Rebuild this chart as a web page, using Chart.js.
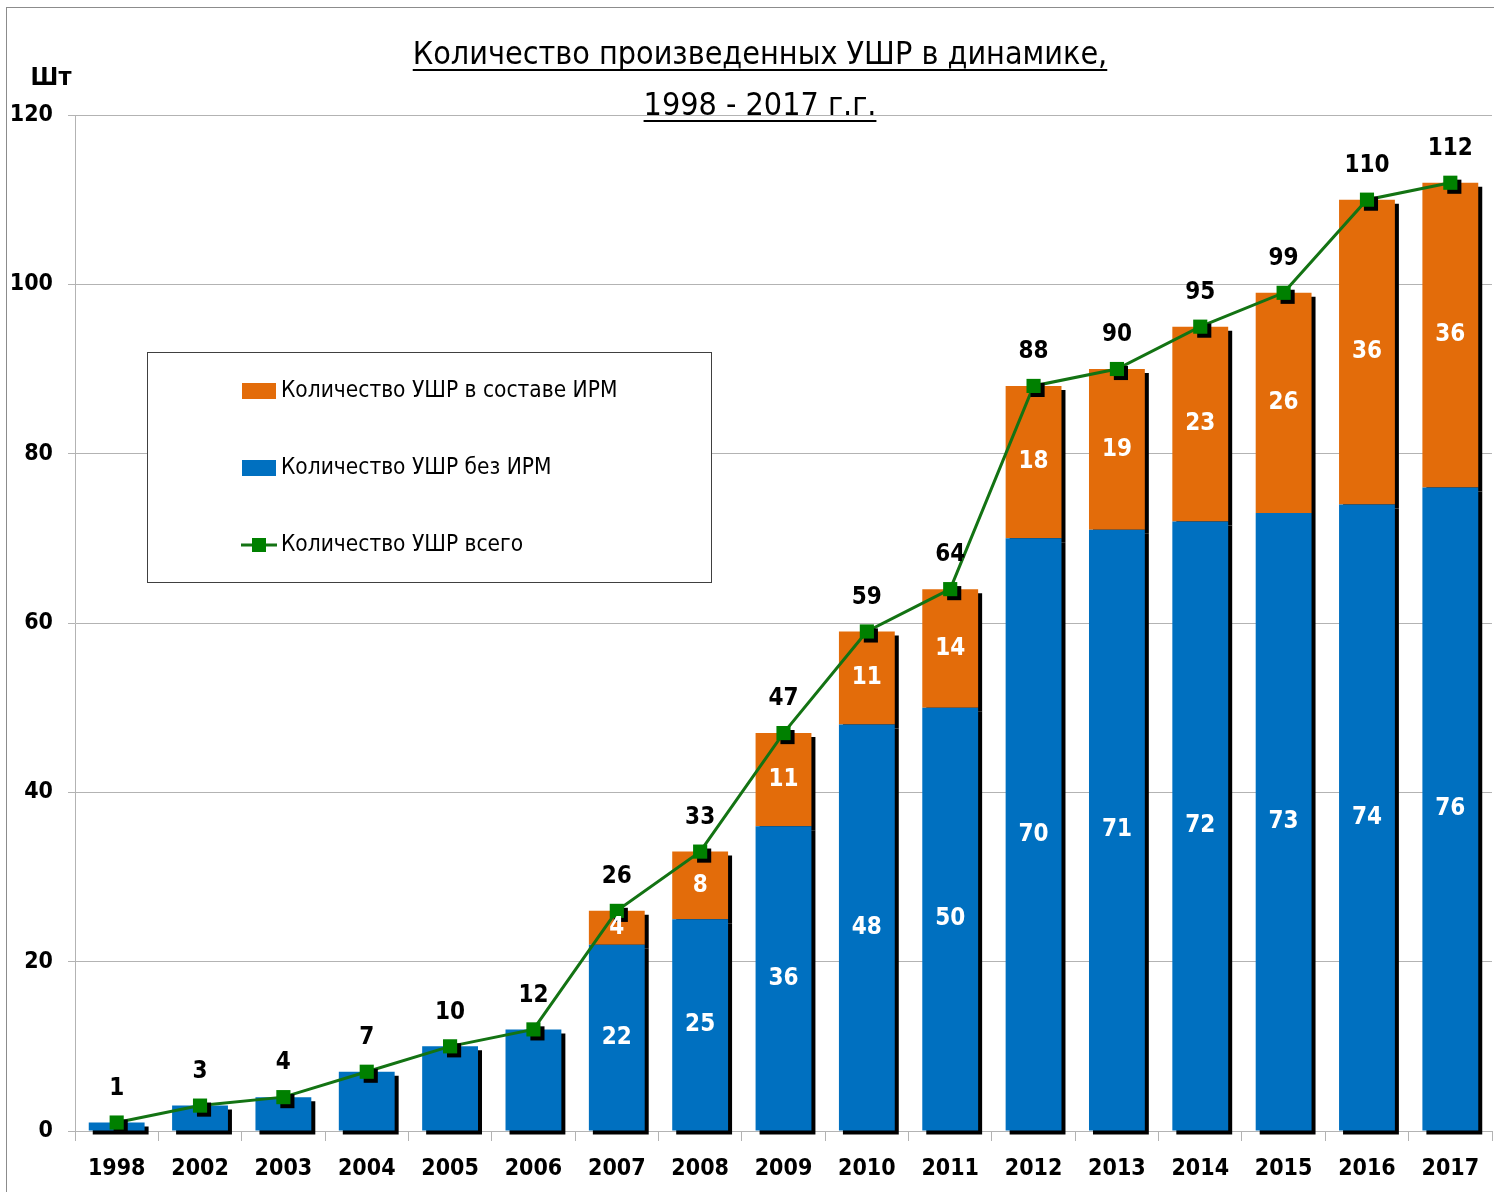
<!DOCTYPE html>
<html>
<head>
<meta charset="utf-8">
<script src="https://cdn.jsdelivr.net/npm/chart.js@4"></script>
<style>
  html, body { margin: 0; padding: 0; background: #fff; }
  #wrap { width: 1494px; height: 1192px; }
</style>
</head>
<body>
<div id="wrap"><canvas id="chart" width="1494" height="1192"></canvas></div>
<script>
const years = ['1998', '2002', '2003', '2004', '2005', '2006', '2007', '2008', '2009',
    '2010', '2011', '2012', '2013', '2014', '2015', '2016', '2017'];
const withoutIrm = [1, 3, 4, 7, 10, 12, 22, 25, 36, 48, 50, 70, 71, 72, 73, 74, 76];
const withIrm = [0, 0, 0, 0, 0, 0, 4, 8, 11, 11, 14, 18, 19, 23, 26, 36, 36];
const totals = [1, 3, 4, 7, 10, 12, 26, 33, 47, 59, 64, 88, 90, 95, 99, 110, 112];
const yTicks = [0, 20, 40, 60, 80, 100, 120];

const titleLines = ['Количество произведенных УШР в динамике,', '1998 - 2017 г.г.'];
const labelIrm = 'Количество УШР в составе ИРМ';
const labelNoIrm = 'Количество УШР без ИРМ';
const labelTotal = 'Количество УШР всего';

const FONT = "'Liberation Sans Narrow', 'DejaVu Sans Condensed', 'Open Sans', sans-serif";
const BLUE = '#0070C0';
const ORANGE = '#E36C0A';
const GREEN_LINE = '#137313';
const GREEN_MARK = '#008000';
const GRID = '#b3b3b3';

const shadowPlugin = {
    id: 'shadow',
    beforeDatasetDraw(chart, args) {
        const ds = chart.data.datasets[args.index];
        if (ds.shadow) {
            const ctx = chart.ctx;
            ctx.save();
            ctx.shadowColor = '#000';
            ctx.shadowOffsetX = 4;
            ctx.shadowOffsetY = 4;
            ctx.shadowBlur = 0;
        }
    },
    afterDatasetDraw(chart, args) {
        if (chart.data.datasets[args.index].shadow) {
            chart.ctx.restore();
        }
    }
};

const decorPlugin = {
    id: 'decor',
    beforeDraw(chart) {
        const ctx = chart.ctx;
        ctx.save();
        ctx.fillStyle = '#fff';
        ctx.fillRect(0, 0, chart.width, chart.height);
        ctx.strokeStyle = '#8c8c8c';
        ctx.lineWidth = 1;
        ctx.strokeRect(6.5, 7.5, chart.width + 10, chart.height + 10);
        ctx.restore();
    },
    beforeDatasetsDraw(chart) {
        // legend box sits over the grid lines
        const ctx = chart.ctx;
        ctx.save();
        ctx.fillStyle = '#fff';
        ctx.fillRect(147, 352, 564, 230);
        ctx.strokeStyle = '#404040';
        ctx.lineWidth = 1;
        ctx.strokeRect(147.5, 352.5, 564, 230);

        ctx.font = '22.5px ' + FONT;
        ctx.textBaseline = 'middle';
        ctx.textAlign = 'left';

        ctx.fillStyle = ORANGE;
        ctx.fillRect(242, 383, 34, 16);
        ctx.fillStyle = '#000';
        ctx.fillText(labelIrm, 281, 391);

        ctx.fillStyle = BLUE;
        ctx.fillRect(242, 460, 34, 16);
        ctx.fillStyle = '#000';
        ctx.fillText(labelNoIrm, 281, 468);

        ctx.strokeStyle = GREEN_LINE;
        ctx.lineWidth = 3;
        ctx.beginPath();
        ctx.moveTo(241, 545);
        ctx.lineTo(277, 545);
        ctx.stroke();
        ctx.fillStyle = GREEN_MARK;
        ctx.fillRect(252, 538, 14, 14);
        ctx.fillStyle = '#000';
        ctx.fillText(labelTotal, 281, 545);
        ctx.restore();
    },
    afterDraw(chart) {
        const ctx = chart.ctx;
        const y = chart.scales.y;
        ctx.save();
        ctx.fillStyle = '#000';
        ctx.strokeStyle = '#000';
        ctx.textAlign = 'center';
        ctx.textBaseline = 'alphabetic';
        ctx.font = '32px ' + FONT;
        const cx = 760;
        [[titleLines[0], 64], [titleLines[1], 115]].forEach(([t, by]) => {
            ctx.fillText(t, cx, by);
            const w = ctx.measureText(t).width;
            ctx.lineWidth = 2;
            ctx.beginPath();
            ctx.moveTo(cx - w / 2, by + 6);
            ctx.lineTo(cx + w / 2, by + 6);
            ctx.stroke();
        });

        ctx.font = 'bold 25px ' + FONT;
        ctx.textBaseline = 'middle';
        ctx.fillText('Шт', 51, 78);

        // values inside the bars and totals above the markers
        const metaBlue = chart.getDatasetMeta(0);
        const metaOrange = chart.getDatasetMeta(1);
        ctx.font = 'bold 24px ' + FONT;
        years.forEach((yr, i) => {
            const b = metaBlue.data[i];
            if (withIrm[i] > 0) {
                ctx.fillStyle = '#fff';
                ctx.fillText(String(withoutIrm[i]), b.x, (b.y + b.base) / 2);
                const o = metaOrange.data[i];
                ctx.fillText(String(withIrm[i]), o.x, (o.y + o.base) / 2);
            }
            ctx.fillStyle = '#000';
            ctx.fillText(String(totals[i]), b.x, y.getPixelForValue(totals[i]) - 34);
        });
        ctx.restore();
    }
};

new Chart(document.getElementById('chart'), {
    type: 'bar',
    data: {
        labels: years,
        datasets: [
            {
                label: labelNoIrm,
                data: withoutIrm,
                backgroundColor: BLUE,
                stack: 'bars',
                order: 2,
                shadow: true,
                clip: false,
                barPercentage: 0.67,
                categoryPercentage: 1
            },
            {
                label: labelIrm,
                data: withIrm,
                backgroundColor: ORANGE,
                stack: 'bars',
                order: 3,
                shadow: true,
                clip: false,
                barPercentage: 0.67,
                categoryPercentage: 1
            },
            {
                type: 'line',
                label: labelTotal,
                data: totals,
                borderColor: GREEN_LINE,
                borderWidth: 3,
                pointRadius: 0,
                stack: 'line',
                order: 1,
                clip: false
            },
            {
                type: 'line',
                label: labelTotal + ' (markers)',
                data: totals,
                showLine: false,
                pointStyle: 'rect',
                pointRadius: 10,
                pointBackgroundColor: GREEN_MARK,
                pointBorderWidth: 0,
                stack: 'marks',
                order: 0,
                shadow: true,
                clip: false
            }
        ]
    },
    options: {
        responsive: false,
        animation: false,
        layout: { autoPadding: false, padding: { top: 115, right: 2, left: 0, bottom: 0 } },
        plugins: {
            legend: { display: false },
            title: { display: false },
            tooltip: { enabled: false }
        },
        scales: {
            x: {
                stacked: true,
                grid: {
                    display: true,
                    drawOnChartArea: false,
                    offset: true,
                    tickLength: 10,
                    color: GRID
                },
                border: { color: GRID },
                ticks: {
                    color: '#000',
                    padding: 14,
                    font: { family: FONT, size: 23, weight: 'bold' }
                },
                afterFit(scale) { scale.height = 61; }
            },
            y: {
                stacked: true,
                min: 0,
                max: 120,
                afterBuildTicks(scale) {
                    scale.ticks = yTicks.map(v => ({ value: v }));
                },
                grid: {
                    color: GRID,
                    tickLength: 7
                },
                border: { color: GRID },
                ticks: {
                    color: '#000',
                    padding: 15,
                    font: { family: FONT, size: 23, weight: 'bold' }
                },
                afterFit(scale) { scale.width = 75; }
            }
        }
    },
    plugins: [shadowPlugin, decorPlugin]
});
</script>
</body>
</html>
